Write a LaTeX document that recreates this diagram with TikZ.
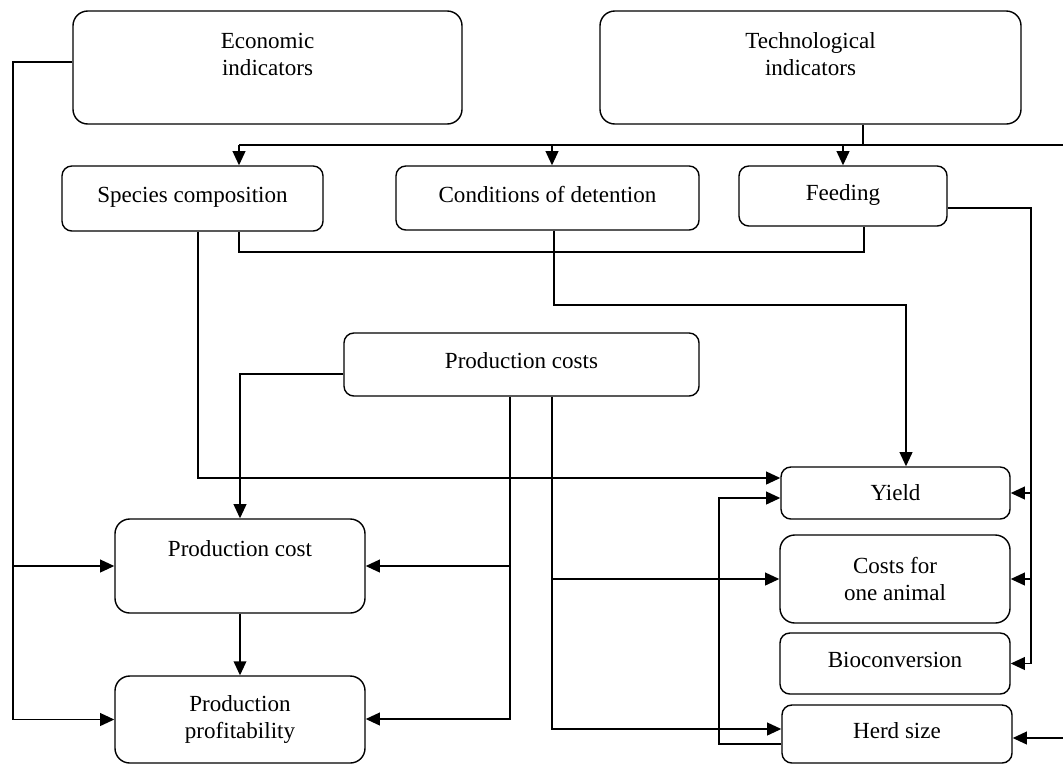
\documentclass[tikz,border=0pt]{standalone}
\usepackage{fontspec}
\setmainfont{Liberation Serif}
\usetikzlibrary{arrows.meta, positioning}
\newcommand{\pxu}{0.025cm}
\tikzset{
  indblock/.style={rectangle, rounded corners=7pt, draw=black, line width=1pt,
                   inner sep=0pt, align=center,
                   font=\fontsize{16.4}{19.2}\selectfont},
  indone/.style={indblock, text height=0.85em, text depth=0.27em},
  indbig/.style={indblock, rounded corners=10.5pt},
  indline/.style={line width=0.9pt, black},
  indarrow/.style={indline, line width=1.2pt, -{Triangle[length=10pt, width=9pt]}},
}

\begin{document}
\begin{tikzpicture}[x=\pxu, y=-\pxu]
  \useasboundingbox (0,0) rectangle (1063,765);
  % Indicator groups
  \node[indbig, minimum width=389*\pxu, minimum height=113*\pxu] (econ) at (267.5,67.5) {Economic\\indicators\\[-0.2cm]\strut};
  \node[indbig, minimum width=421*\pxu, minimum height=113*\pxu] (tech) at (810.5,67.5) {Technological\\indicators\\[-0.2cm]\strut};
  % Technological factors
  \node[indone, minimum width=261*\pxu, minimum height=65*\pxu] (species) at (192.5,198.5) {Species composition};
  \node[indone, minimum width=303*\pxu, minimum height=64*\pxu] (cond) at (547.5,198) {Conditions of detention};
  \node[indone, minimum width=208*\pxu, minimum height=60*\pxu] (feed) at (843,196) {Feeding};
  % Costs
  \node[indone, minimum width=355*\pxu, minimum height=63*\pxu] (pcosts) at (521.5,364.5) {Production costs};
  \node[indbig, minimum width=250*\pxu, minimum height=94*\pxu] (pcost) at (240,566) {Production cost\\\strut};
  \node[indbig, minimum width=250*\pxu, minimum height=87*\pxu] (profit) at (240,719.5) {Production\\profitability};
  % Results
  \node[indblock, minimum width=229*\pxu, minimum height=52*\pxu] (yield) at (895.5,493) {Yield};
  \node[indbig, minimum width=230*\pxu, minimum height=88*\pxu] (costs1) at (895,579) {Costs for\\one animal};
  \node[indone, minimum width=230*\pxu, minimum height=61*\pxu] (bio) at (895,663.5) {Bioconversion};
  \node[indone, minimum width=230*\pxu, minimum height=58*\pxu] (herd) at (897,734) {Herd size};

  % Bends
  \coordinate (bus) at (863,145);
  \coordinate (busend) at (1063,145);
  \coordinate (b1) at (239,145);
  \coordinate (b2) at (552,145);
  \coordinate (b3) at (843,145);
  \coordinate (sf1) at (239,252);
  \coordinate (sf2) at (864,252);
  \coordinate (sy) at (198,478);
  \coordinate (cy1) at (554,305);
  \coordinate (cy2) at (906,305);
  \coordinate (fr) at (1031,208);
  \coordinate (el) at (13,62);
  \coordinate (pl) at (240,374);
  \coordinate (pa) at (510,719);
  \coordinate (pb) at (552,729);
  \coordinate (hl) at (719,744);
  \coordinate (hy) at (719,498);
  \coordinate (hr) at (1063,738);

  % Top bus
  \draw[indline] (tech.south -| bus) -- (bus);
  \draw[indline] (b1) -- (busend);
  \draw[indarrow] (b1) -- (b1 |- species.north);
  \draw[indarrow] (b2) -- (b2 |- cond.north);
  \draw[indarrow] (b3) -- (b3 |- feed.north);
  \draw[indline] (species.south -| sf1) -- (sf1) -- (sf2) -- (feed.south -| sf2);
  % Into yield
  \draw[indarrow] (species.south -| sy) -- (sy) -- (sy -| yield.west);
  \draw[indarrow] (cond.south -| cy1) -- (cy1) -- (cy2) -- (cy2 |- yield.north);
  \draw[indarrow] (hl -| herd.west) -- (hl) -- (hy) -- (hy -| yield.west);
  % Feeding
  \draw[indarrow] (fr -| feed.east) -- (fr) |- (bio.east);
  \draw[indarrow] (fr |- yield.east) -- (yield.east);
  \draw[indarrow] (fr |- costs1.east) -- (costs1.east);
  % Economic
  \draw[indarrow] (el -| econ.west) -- (el) |- (profit.west);
  \draw[indarrow] (el |- pcost.west) -- (pcost.west);
  % Production costs
  \draw[indarrow] (pcosts.west |- pl) -- (pl) -- (pcost.north);
  \draw[indarrow] (pcosts.south -| pa) -- (pa) -- (pa -| profit.east);
  \draw[indarrow] (pa |- pcost.east) -- (pcost.east);
  \draw[indarrow] (pcosts.south -| pb) -- (pb) -- (pb -| herd.west);
  \draw[indarrow] (pb |- costs1.west) -- (costs1.west);
  \draw[indarrow] (pcost) -- (profit);
  \draw[indarrow] (hr) -- (hr -| herd.east);
\end{tikzpicture}
\end{document}
